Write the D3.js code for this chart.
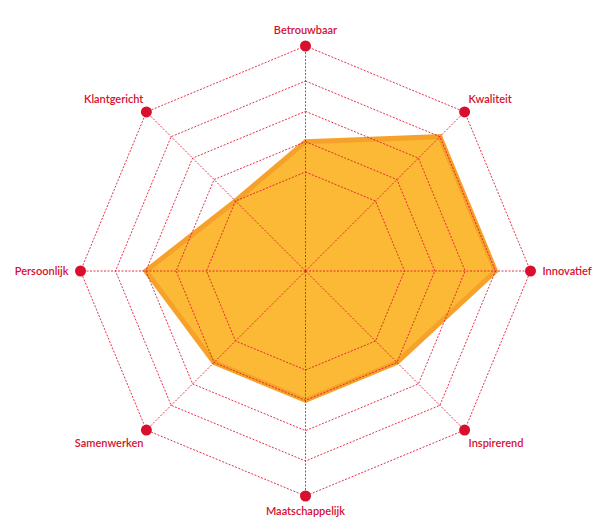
<!DOCTYPE html>
<html>
<head>
<meta charset="utf-8">
<script src="https://cdn.jsdelivr.net/npm/d3@7"></script>
<style>
  body { margin: 0; background: #fff; }
  svg text { font-family: "Lato", "Open Sans", sans-serif; }
</style>
</head>
<body>
<script>
// axes clockwise starting at the top
var axes = ['Betrouwbaar', 'Kwaliteit', 'Innovatief', 'Inspirerend',
    'Maatschappelijk', 'Samenwerken', 'Persoonlijk', 'Klantgericht'];
// score per axis (1..4)
var scores = [2, 4, 4, 2, 2, 2, 3, 1];
// grid rings
var levels = [1, 2, 3, 4];

var width = 600, height = 530;
var cx = 305.5, cy = 271;
var outer = 225; // length of the spokes, dots at the end

var svg = d3.select("body").append("svg")
    .attr("width", width)
    .attr("height", height);

var g = svg.append("g").attr("transform", "translate(" + cx + "," + cy + ")");

// radius scale, ~30px per level
var r = d3.scaleLinear().domain([1, 4]).range([99, 190]);
var angle = d3.scalePoint().domain(axes).range([0, 2 * Math.PI * 7 / 8]);

function pt(name, rad) {
    var a = angle(name);
    return [rad * Math.sin(a), -rad * Math.cos(a)];
}

var line = d3.line().curve(d3.curveLinearClosed);

// the filled score area
g.append("path")
    .attr("d", line(axes.map((a, i) => pt(a, r(scores[i])))))
    .attr("fill", "#fbb935")
    .attr("stroke", "#f6a22a")
    .attr("stroke-width", 5)
    .attr("stroke-linejoin", "miter");

// rings (octagons), plus the outer one through the dots
var grid = g.append("g")
    .attr("fill", "none")
    .attr("stroke", "#e0112f")
    .attr("stroke-opacity", 0.85)
    .attr("stroke-width", 1)
    .attr("stroke-dasharray", "2,1.5");

var ringRadii = levels.map(l => r(l)).concat([outer]);
grid.selectAll("path.ring")
    .data(ringRadii)
    .enter().append("path")
    .attr("class", "ring")
    .attr("d", d => line(axes.map(a => pt(a, d))));

// spokes
grid.selectAll("line")
    .data(axes)
    .enter().append("line")
    .attr("x1", 0).attr("y1", 0)
    .attr("x2", d => pt(d, outer)[0])
    .attr("y2", d => pt(d, outer)[1]);

// dots
g.selectAll("circle")
    .data(axes)
    .enter().append("circle")
    .attr("cx", d => pt(d, outer)[0])
    .attr("cy", d => pt(d, outer)[1])
    .attr("r", 5.5)
    .attr("fill", "#d80f2d");

// label placement per direction (index 0 = top, clockwise)
var labelPos = [
    { dx: 0, dy: -12, anchor: "middle" },
    { dx: 4, dy: -9, anchor: "start" },
    { dx: 12, dy: 4, anchor: "start" },
    { dx: 4, dy: 17, anchor: "start" },
    { dx: 0, dy: 19, anchor: "middle" },
    { dx: -3, dy: 17, anchor: "end" },
    { dx: -12, dy: 4, anchor: "end" },
    { dx: -3, dy: -9, anchor: "end" }
];

g.selectAll("text")
    .data(axes)
    .enter().append("text")
    .attr("x", (d, i) => pt(d, outer)[0] + labelPos[i].dx)
    .attr("y", (d, i) => pt(d, outer)[1] + labelPos[i].dy)
    .attr("text-anchor", (d, i) => labelPos[i].anchor)
    .attr("font-size", "11px")
    .attr("font-weight", 600)
    .attr("fill", "#d5112e")
    .text(d => d);
</script>
</body>
</html>
